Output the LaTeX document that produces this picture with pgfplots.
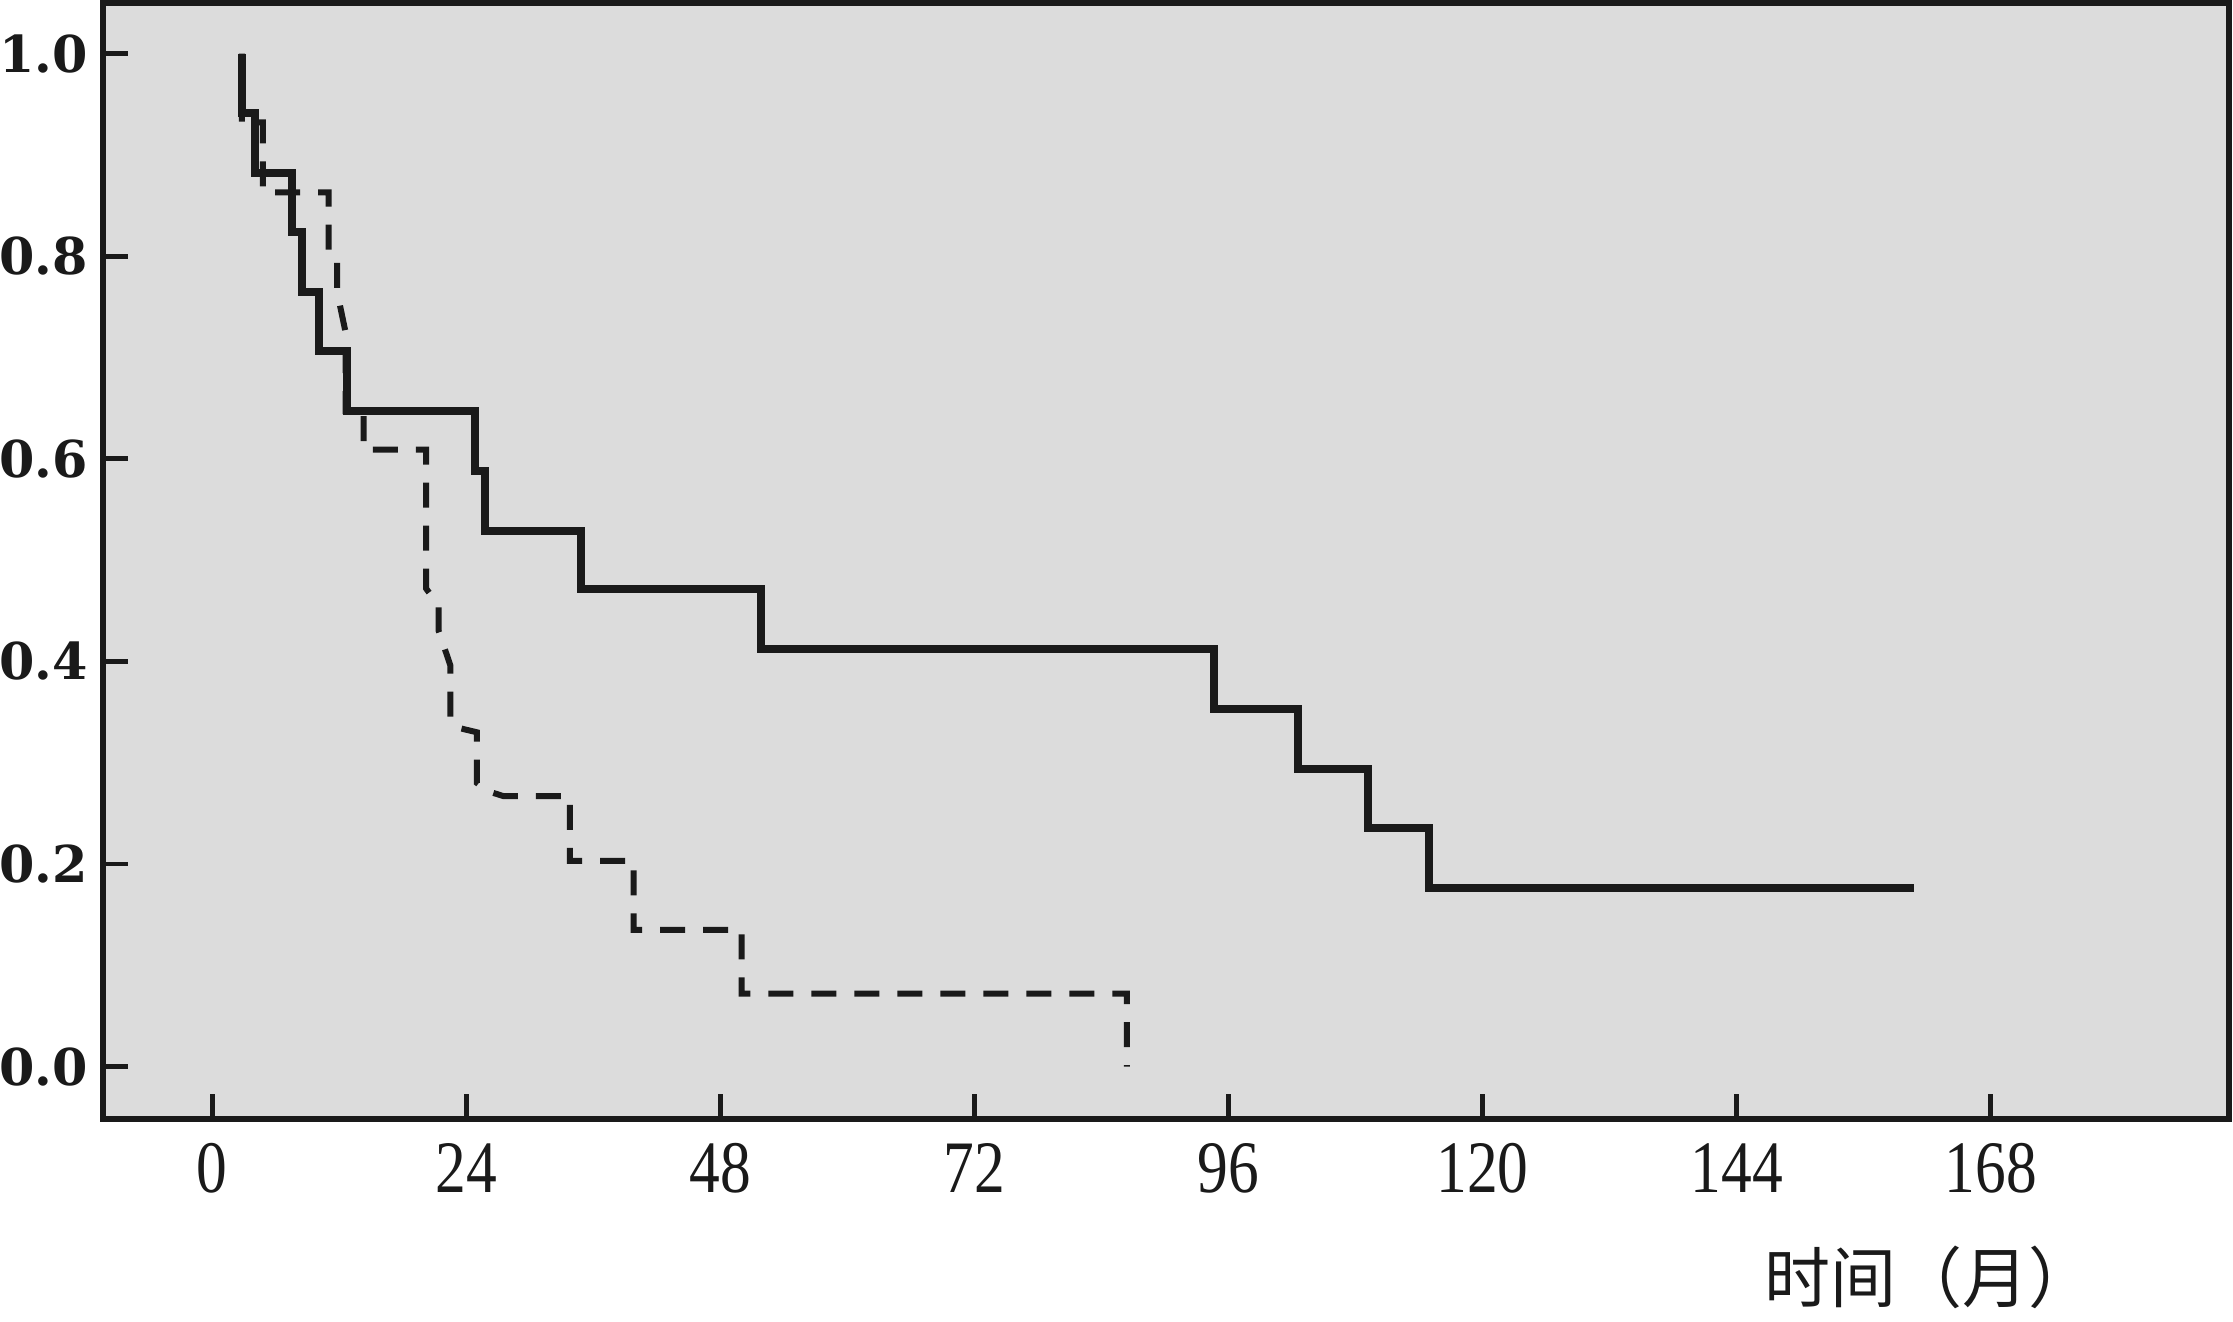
\documentclass[border=0pt]{standalone}
\usepackage{fontspec}
\usepackage{graphicx}
\usepackage{pgfplots}
\pgfplotsset{compat=1.18}
\setmainfont{Liberation Serif}
\newfontfamily\yfont{DejaVu Serif}
\newfontfamily\cjk{Noto Sans CJK SC}
\definecolor{bg}{RGB}{220,220,220}
\definecolor{ink}{RGB}{26,26,26}
\newcommand{\xl}[1]{\scalebox{0.83}[1]{#1}}
\begin{document}
\begin{tikzpicture}
\begin{axis}[
  scale only axis,
  width=531.6pt, height=279.1pt,
  xmin=-10.31, xmax=190.54,
  ymin=-0.0522, ymax=1.0499,
  axis background/.style={fill=bg},
  axis line style={line width=1.5pt, ink},
  tick align=inside,
  xtick pos=left, ytick pos=left,
  major tick length=6.25pt,
  tick style={line width=1.2pt, ink},
  xtick={0,24,48,72,96,120,144,168},
  xticklabels={\xl{0},\xl{24},\xl{48},\xl{72},\xl{96},\xl{120},\xl{144},\xl{168}},
  ytick={0,0.2,0.4,0.6,0.8,1.0},
  yticklabels={0.0,0.2,0.4,0.6,0.8,1.0},
  xticklabel style={font=\fontsize{18.5}{18.5}\selectfont, text=ink, yshift=-2.5pt},
  yticklabel style={font=\yfont\bfseries\fontsize{12.7}{12.7}\selectfont, text=ink, xshift=-0.3pt},
  xlabel={时间（月）},
  xlabel style={font=\cjk\fontsize{16.5}{16.5}\selectfont, text=ink, at={(axis description cs:0.859,0)}, anchor=center, yshift=-39.5pt},
  clip=false,
]
% dashed group
\addplot[ink, line width=1.5pt, dash pattern=on 6.25pt off 4.5pt] coordinates {
(2.8,1.0) (2.8,0.932) (4.8,0.932) (4.8,0.863) (11.0,0.863) (11.0,0.80)
(11.8,0.795) (11.8,0.765) (12.6,0.725) (12.6,0.647) (14.3,0.647) (14.3,0.609)
(20.2,0.609) (20.2,0.472) (21.4,0.455) (21.4,0.43) (22.5,0.396) (22.5,0.345)
(23.0,0.335) (25.0,0.330) (25.0,0.28) (26.0,0.272) (27.5,0.267) (33.8,0.267)
(33.8,0.203) (39.8,0.203) (39.8,0.135) (50.0,0.135) (50.0,0.072) (86.4,0.072)
(86.4,0.0)
};
% solid group
\addplot[ink, line width=2pt, const plot] coordinates {
(2.8,1.0) (2.8,0.941) (4.0,0.882) (7.5,0.824) (8.5,0.765) (10.1,0.706)
(12.7,0.647) (24.8,0.588) (25.8,0.529) (34.8,0.471) (51.8,0.412)
(94.6,0.353) (102.6,0.294) (109.2,0.235) (114.9,0.176) (160.7,0.176)
};
\end{axis}
\pgfresetboundingbox
\path[use as bounding box] (-25.75pt,-50.4pt) rectangle (532.5pt,279.85pt);
\end{tikzpicture}
\end{document}
